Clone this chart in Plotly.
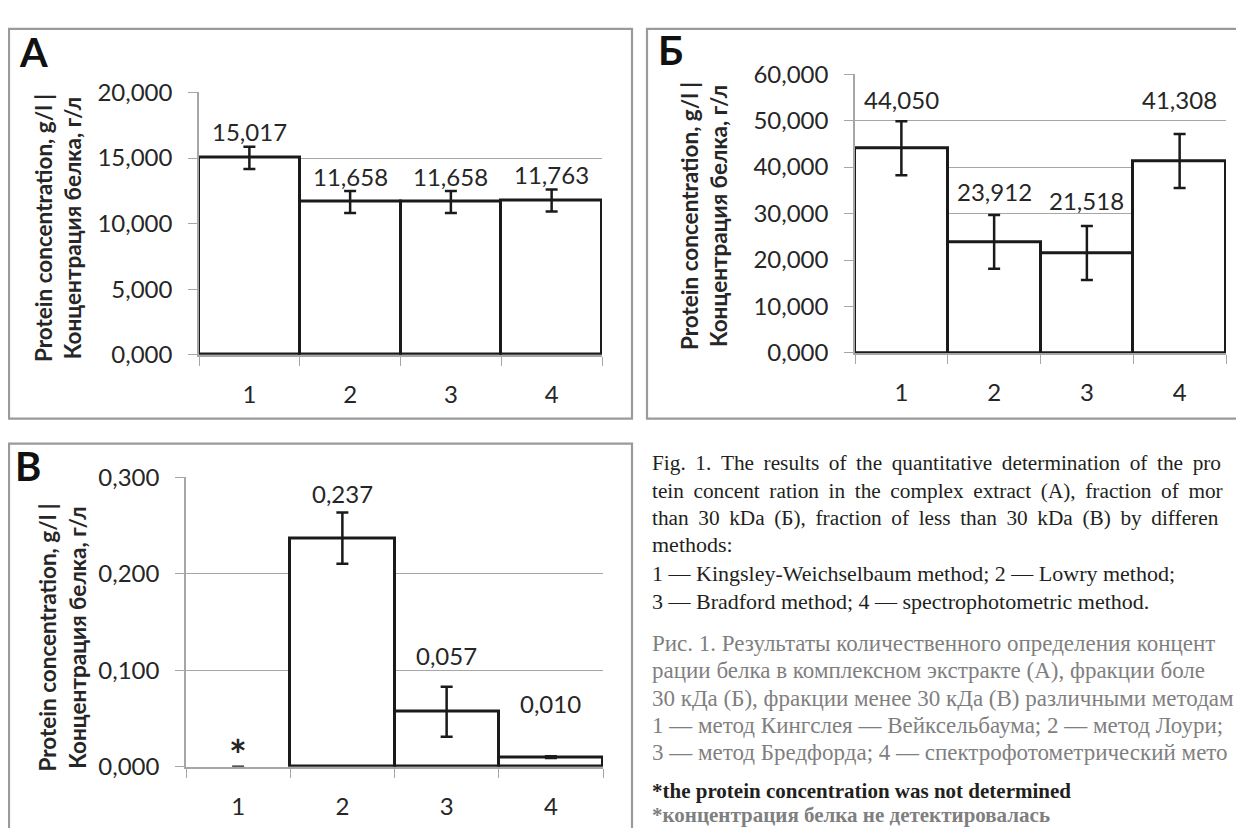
import plotly.graph_objects as go

# The page body keeps the browser's default 8 px margin, so the figure is
# drawn 8 px smaller on each side and every reference pixel is shifted by OFF.
W, H = 1228, 820
OFF = 8

categories = ["1", "2", "3", "4"]

# Panel A – complex extract
values_a = [15.017, 11.658, 11.658, 11.763]
errors_a = [0.84, 0.84, 0.84, 0.84]
labels_a = ["15,017", "11,658", "11,658", "11,763"]
label_y_a = [17.0, 13.6, 13.6, 13.75]

# Panel Б – fraction > 30 kDa
values_b = [44.050, 23.912, 21.518, 41.308]
errors_b = [5.8, 5.8, 5.8, 5.8]
labels_b = ["44,050", "23,912", "21,518", "41,308"]
label_y_b = [54.6, 34.8, 32.9, 54.6]

# Panel В – fraction < 30 kDa
values_c = [0.0, 0.237, 0.057, 0.010]
errors_c = [0.0, 0.0265, 0.026, 0.001]
labels_c = ["*", "0,237", "0,057", "0,010"]
label_y_c = [0.012, 0.283, 0.115, 0.066]

ticks_a = [0, 5, 10, 15, 20]
ticks_a_text = ["0,000", "5,000", "10,000", "15,000", "20,000"]
ticks_b = [0, 10, 20, 30, 40, 50, 60]
ticks_b_text = ["0,000", "10,000", "20,000", "30,000", "40,000", "50,000", "60,000"]
ticks_c = [0, 0.1, 0.2, 0.3]
ticks_c_text = ["0,000", "0,100", "0,200", "0,300"]

y_title = "Protein concentration, g/l |<br>Концентрация белка, г/л"

# caption text as visible in the (cropped) reference
caption_en = [
    "Fig. 1. The results of the quantitative determination of the pro",
    "tein concent ration in the complex extract (A), fraction of mor",
    "than 30 kDa (Б), fraction of less than 30 kDa (В) by differen",
    "methods:",
    "1 — Kingsley-Weichselbaum method; 2 — Lowry method;",
    "3 — Bradford method; 4 — spectrophotometric method.",
]
caption_en_justified = [True, True, True, False, False, False]
caption_ru = [
    "Рис. 1. Результаты количественного определения концент",
    "рации белка в комплексном экстракте (А), фракции боле",
    "30 кДа (Б), фракции менее 30 кДа (В) различными методам",
    "1 — метод Кингслея — Вейксельбаума; 2 — метод Лоури;",
    "3 — метод Бредфорда; 4 — спектрофотометрический мето",
]
note_en = "*the protein concentration was not determined"
note_ru = "*концентрация белка не детектировалась"

FONT = "Lato"
TXT = "#262626"
GRID = "#a6a6a6"


def px(x):
    return (x - OFF) / W


def py(y):
    return 1 - (y - OFF) / H


fig = go.Figure()

panels = [
    (values_a, errors_a, "x", "y", [3, 3, 3, 3]),
    (values_b, errors_b, "x2", "y2", [3, 3, 3, 3]),
    (values_c, errors_c, "x3", "y3", [0, 3, 3, 3]),
]
for vals, errs, xa, ya, lw in panels:
    fig.add_trace(go.Bar(
        x=categories, y=vals, xaxis=xa, yaxis=ya,
        marker=dict(color="white", line=dict(color="#1a1a1a", width=lw)),
        error_y=dict(type="data", array=errs, visible=True,
                     color="#1a1a1a", thickness=2.5, width=6),
        showlegend=False, hoverinfo="skip",
    ))

xcommon = dict(type="category", tickson="boundaries", ticks="outside", ticklen=9,
               tickcolor=GRID, showgrid=False, showline=True, linecolor=GRID,
               linewidth=1.5, tickfont=dict(family=FONT, size=24, color=TXT),
               ticklabelstandoff=18, fixedrange=True)
ycommon = dict(ticks="outside", ticklen=9, tickcolor=GRID, showgrid=True,
               gridcolor=GRID, gridwidth=1.3, showline=True, linecolor=GRID,
               linewidth=1.5, zeroline=False,
               tickfont=dict(family=FONT, size=24, color=TXT),
               ticklabelstandoff=11, fixedrange=True)

fig.update_layout(
    width=W, height=H, margin=dict(l=0, r=0, t=0, b=0),
    paper_bgcolor="white", plot_bgcolor="white", bargap=0,
    xaxis=dict(domain=[px(199), px(602)], anchor="y", **xcommon),
    yaxis=dict(domain=[py(351), py(79)], anchor="x", range=[0, 20],
               tickvals=ticks_a, ticktext=ticks_a_text, **ycommon),
    xaxis2=dict(domain=[px(855), px(1226)], anchor="y2", **xcommon),
    yaxis2=dict(domain=[py(349), py(60)], anchor="x2", range=[0, 60],
                tickvals=ticks_b, ticktext=ticks_b_text, **ycommon),
    xaxis3=dict(domain=[px(186), px(603)], anchor="y3", **xcommon),
    yaxis3=dict(domain=[py(778), py(478)], anchor="x3", range=[0, 0.3],
                tickvals=ticks_c, ticktext=ticks_c_text, **ycommon),
)

annotations = []
for labs, ly, xa, ya in [(labels_a, label_y_a, "x", "y"),
                         (labels_b, label_y_b, "x2", "y2"),
                         (labels_c, label_y_c, "x3", "y3")]:
    for i, (lab, yy) in enumerate(zip(labs, ly)):
        star = lab == "*"
        annotations.append(dict(
            x=i, y=yy, xref=xa, yref=ya, text=("<b>*</b>" if star else lab),
            showarrow=False, xanchor="center", yanchor="middle",
            font=dict(family=FONT, size=42 if star else 24, color=TXT)))

# y-axis titles
for cx, cy in [(57.5, 220), (704, 207), (62, 644)]:
    annotations.append(dict(
        x=px(cx), y=py(cy), xref="paper", yref="paper", text="<b>" + y_title + "</b>",
        textangle=-90, showarrow=False, xanchor="center", yanchor="middle",
        font=dict(family=FONT, size=22.5, color=TXT)))

# panel letters
for letter, cx, cy in [("А", 33, 37), ("Б", 670, 35), ("В", 28, 466)]:
    annotations.append(dict(
        x=px(cx), y=py(cy), xref="paper", yref="paper", text="<b>" + letter + "</b>",
        showarrow=False, xanchor="center", yanchor="middle",
        font=dict(family=FONT, size=40, color="#111111")))

# caption text
SERIF = "Liberation Serif"
en_y = [463, 492, 520, 548, 578, 607]
for line, just, yy in zip(caption_en, caption_en_justified, en_y):
    shown = line.replace(" ", " \u2009") if just else line
    annotations.append(dict(
        x=px(650), y=py(yy), xref="paper", yref="paper", text=shown,
        showarrow=False, xanchor="left", yanchor="middle",
        font=dict(family=SERIF, size=21.3 if just else 22, color="#231f20")))
ru_y = [650, 678, 707, 735, 763]
for line, yy in zip(caption_ru, ru_y):
    annotations.append(dict(
        x=px(650), y=py(yy), xref="paper", yref="paper", text=line,
        showarrow=False, xanchor="left", yanchor="middle",
        font=dict(family=SERIF, size=23, color="#7f7f7f")))
annotations.append(dict(
    x=px(650), y=py(803), xref="paper", yref="paper", text="<b>" + note_en + "</b>",
    showarrow=False, xanchor="left", yanchor="middle",
    font=dict(family=SERIF, size=21, color="#231f20")))
annotations.append(dict(
    x=px(650), y=py(828), xref="paper", yref="paper", text="<b>" + note_ru + "</b>",
    showarrow=False, xanchor="left", yanchor="middle",
    font=dict(family=SERIF, size=21, color="#7f7f7f")))

fig.update_layout(annotations=annotations)

# panel borders
shapes = []
for x0, y0, x1, y1 in [(9, 13, 632, 417), (647, 13, 1262, 417), (9, 443, 632, 860)]:
    shapes.append(dict(type="rect", xref="paper", yref="paper",
                       x0=px(x0), x1=px(x1), y0=py(y1), y1=py(y0),
                       line=dict(color="#9a9a9a", width=2.2), fillcolor="rgba(0,0,0,0)",
                       layer="below"))
fig.update_layout(shapes=shapes)

fig.write_html("out.html")
